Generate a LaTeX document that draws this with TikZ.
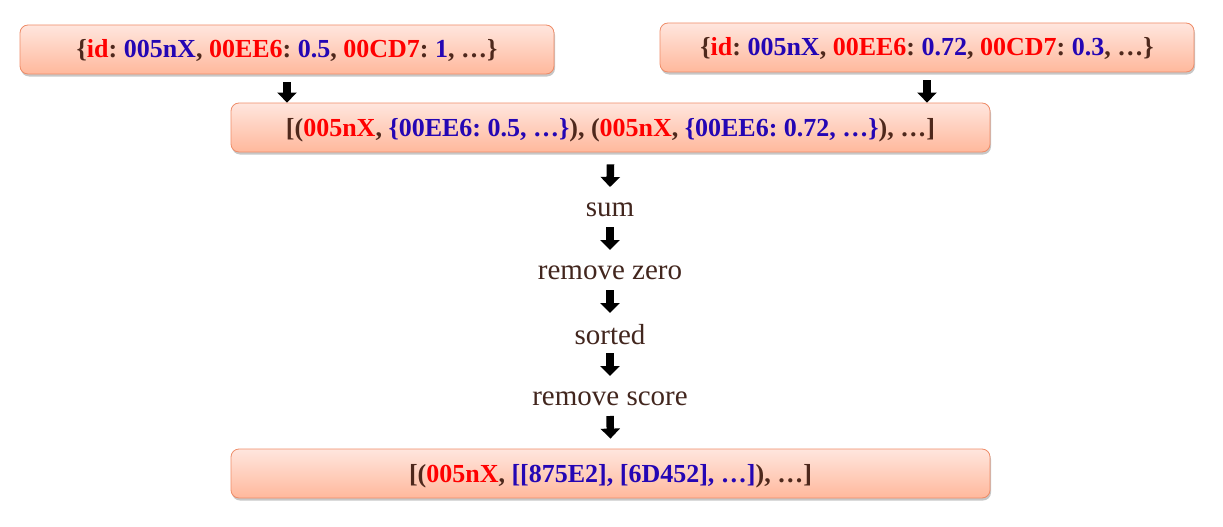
\documentclass[tikz,border=0pt]{standalone}
\usepackage{fontspec}
\setmainfont{Liberation Serif}
\usetikzlibrary{arrows.meta,shadows,calc}
\definecolor{boxtop}{RGB}{255,230,222}
\definecolor{boxbot}{RGB}{255,184,156}
\definecolor{boxline}{RGB}{238,140,104}
\definecolor{kred}{RGB}{255,0,0}
\definecolor{kblue}{RGB}{36,6,180}
\definecolor{kbrown}{RGB}{78,40,28}
\definecolor{lbrown}{RGB}{66,38,30}
\frenchspacing
\tikzset{
  databox/.style={draw=boxline, line width=0.8pt, rounded corners=8pt,
    top color=boxtop, bottom color=boxbot,
    drop shadow={shadow xshift=1pt, shadow yshift=-2.5pt, opacity=0.22, fill=black},
    minimum width=534pt, minimum height=49pt, inner sep=0pt,
    text height=17pt, text depth=0pt,
    font=\fontsize{26}{30}\selectfont\bfseries, text=kbrown},
  widebox/.style={databox, minimum width=759pt},
  steplabel/.style={inner sep=0pt, font=\fontsize{29}{34}\selectfont, text=lbrown},
  blk/.style={line width=7.5pt, black, -{Triangle[width=19pt,length=10pt]}},
}
\newcommand{\R}[1]{\textcolor{kred}{#1}}
\newcommand{\B}[1]{\textcolor{kblue}{#1}}
\begin{document}
\begin{tikzpicture}[x=1pt,y=-1pt]
\useasboundingbox (0,0) rectangle (1223,527);
\node[databox] (A) at (287,49.5) {\{\R{id}: \B{005nX}, \R{00EE6}: \B{0.5}, \R{00CD7}: \B{1}, …\}};
\node[databox] (B) at (927,47.5) {\{\R{id}: \B{005nX}, \R{00EE6}: \B{0.72}, \R{00CD7}: \B{0.3}, …\}};
\node[widebox] (C) at (610.5,127.5) {[(\R{005nX}, \B{\{00EE6: 0.5, …\}}), (\R{005nX}, \B{\{00EE6: 0.72, …\}}), …]};
\node[steplabel] (s1) at (610,210) {sum};
\node[steplabel] (s2) at (610,273) {remove zero};
\node[steplabel] (s3) at (610,335) {sorted};
\node[steplabel] (s4) at (610,399) {remove score};
\node[widebox] (D) at (610.5,473.5) {[(\R{005nX}, \B{[[875E2], [6D452], …]}), …]};
\draw[blk] ($(A.south)+(0,8)$) -- (A.south |- C.north);
\draw[blk] ($(B.south)+(0,8)$) -- (B.south |- C.north);
\draw[blk] ($(C.south)+(0,12)$) -- ($(s1.center)+(0,-23)$);
\draw[blk] ($(s1.center)+(0,17)$) -- ($(s2.center)+(0,-23)$);
\draw[blk] ($(s2.center)+(0,17)$) -- ($(s3.center)+(0,-22)$);
\draw[blk] ($(s3.center)+(0,18)$) -- ($(s4.center)+(0,-23)$);
\draw[blk] ($(s4.center)+(0,17)$) -- ($(D.north)+(0,-10)$);
\end{tikzpicture}
\end{document}
